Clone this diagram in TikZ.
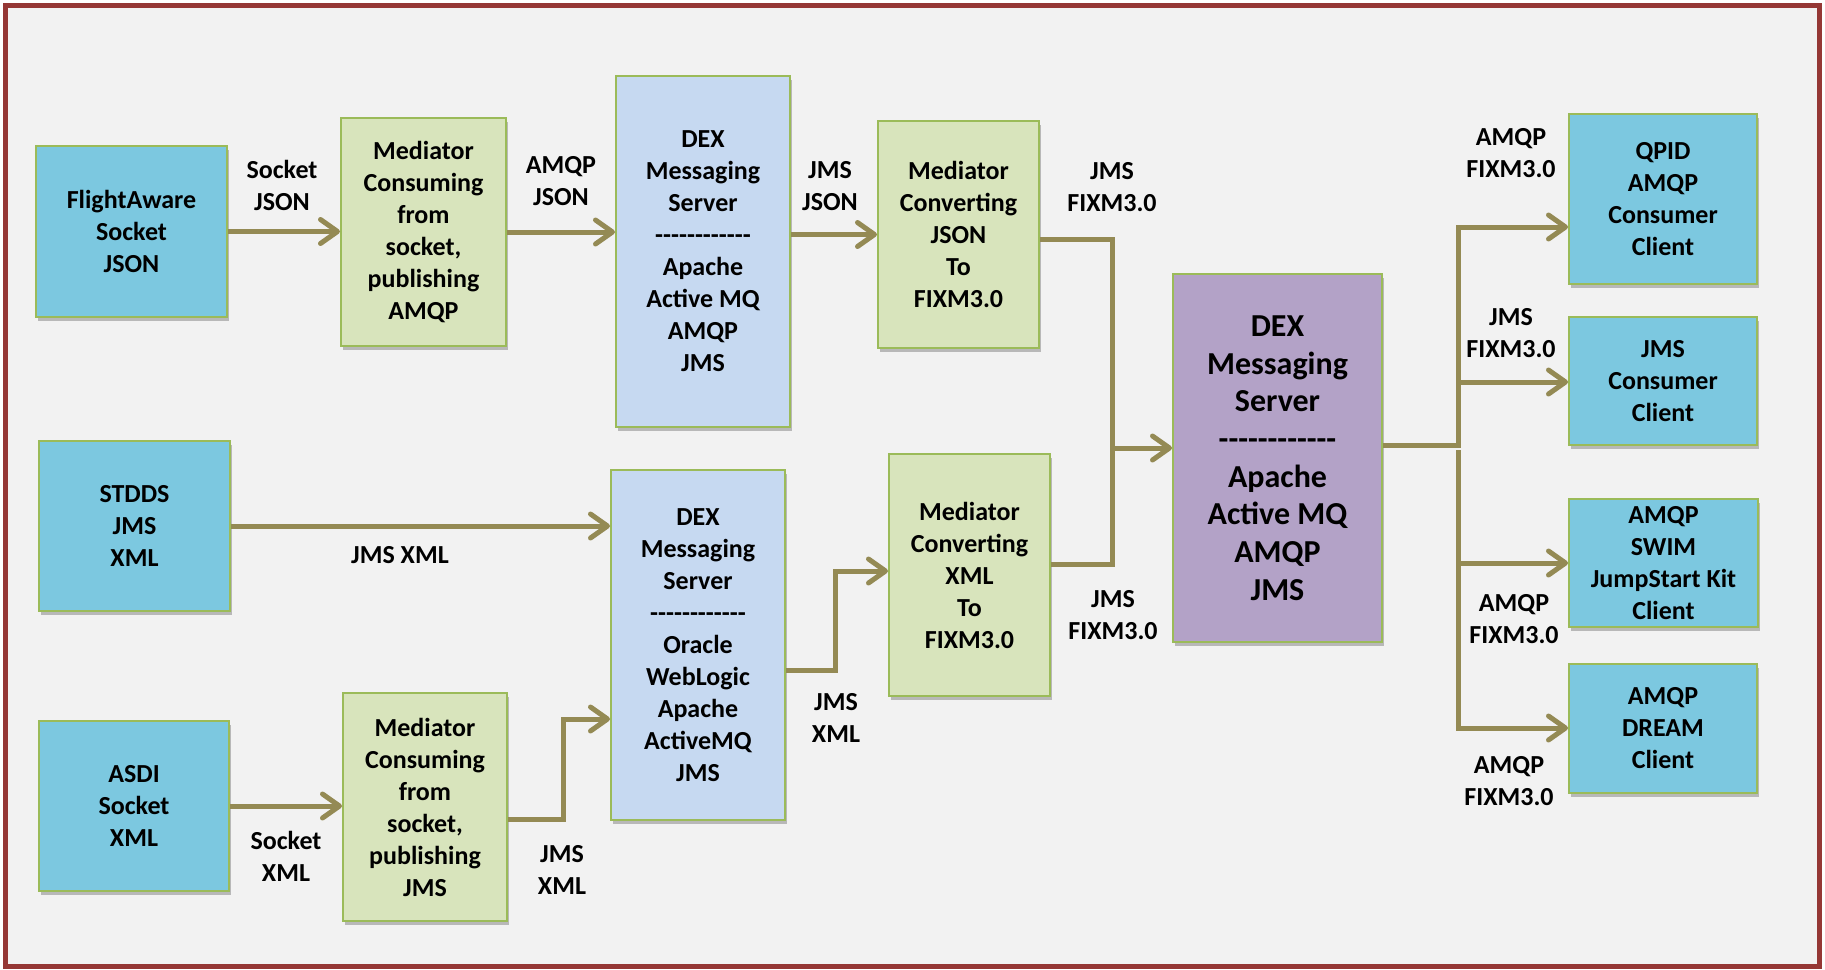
\documentclass[tikz,border=0pt]{standalone}
\usepackage{fontspec}
\setmainfont{Carlito}[Ligatures=TeXOff]
\usetikzlibrary{arrows.meta,shadows}
\definecolor{bgc}{HTML}{F2F2F2}
\definecolor{framec}{HTML}{953735}
\definecolor{boxline}{HTML}{9BBB59}
\definecolor{cblue}{HTML}{7CC8E0}
\definecolor{clblue}{HTML}{C6D9F1}
\definecolor{cgreen}{HTML}{D8E4BC}
\definecolor{cpurple}{HTML}{B3A2C7}
\definecolor{arrowc}{HTML}{948A54}
\newcommand\boxfont{\fontsize{26}{32}\selectfont\bfseries}
\newcommand\bigboxfont{\fontsize{32}{37.7}\selectfont\bfseries}
\begin{document}
\begin{tikzpicture}[x=1pt,y=-1pt,
  box/.style={draw=boxline, line width=2pt, align=center, inner sep=0pt, font=\boxfont,
    drop shadow={shadow xshift=2pt, shadow yshift=-4pt, opacity=0.35, fill=black!70}},
  src/.style={box, fill=cblue},
  dexbox/.style={box, fill=clblue},
  medbox/.style={box, fill=cgreen},
  lab/.style={align=center, inner sep=0pt, font=\boxfont},
  conn/.style={draw=arrowc, line width=5pt, line join=miter},
  arr/.style={conn, -{Straight Barb[length=17pt,width=24pt,round]}}]
\useasboundingbox (0,0) rectangle (1825,969);
\fill[white] (0,0) rectangle (1825,969);
\draw[draw=framec, line width=5pt, fill=bgc] (5.5,5.5) rectangle (1819.5,966.5);

% boxes
\node[src, minimum width=191pt, minimum height=171pt] (fa) at (131.5,231.5) {FlightAware\\Socket\\JSON};
\node[medbox, minimum width=165pt, minimum height=228pt] (med1) at (423.5,232) {Mediator\\Consuming\\from\\socket,\\publishing\\AMQP};
\node[dexbox, minimum width=174pt, minimum height=351pt] (dex1) at (703,251.5) {DEX\\Messaging\\Server\\------------\\Apache\\Active MQ\\AMQP\\JMS};
\node[medbox, minimum width=161pt, minimum height=227pt] (med2) at (958.5,234.5) {Mediator\\Converting\\JSON\\To\\FIXM3.0};
\node[src, minimum width=191pt, minimum height=170pt] (stdds) at (134.5,526) {STDDS\\JMS\\XML};
\node[dexbox, minimum width=174pt, minimum height=350pt] (dex2) at (698,645) {DEX\\Messaging\\Server\\------------\\Oracle\\WebLogic\\Apache\\ActiveMQ\\JMS};
\node[medbox, minimum width=161pt, minimum height=242pt] (med3) at (969.5,575) {Mediator\\Converting\\XML\\To\\FIXM3.0};
\node[src, minimum width=190pt, minimum height=170pt] (asdi) at (134,806) {ASDI\\Socket\\XML};
\node[medbox, minimum width=164pt, minimum height=228pt] (med4) at (425,807) {Mediator\\Consuming\\from\\socket,\\publishing\\JMS};
\node[box, fill=cpurple, font=\bigboxfont, minimum width=209pt, minimum height=368pt] (dexc) at (1277.5,458) {DEX\\Messaging\\Server\\------------\\Apache\\Active MQ\\AMQP\\JMS};
\node[src, minimum width=188pt, minimum height=170pt] (qpid) at (1663,199) {QPID\\AMQP\\Consumer\\Client};
\node[src, minimum width=188pt, minimum height=128pt] (jmsc) at (1663,381) {JMS\\Consumer\\Client};
\node[src, minimum width=189pt, minimum height=128pt] (swim) at (1663.5,563) {AMQP\\SWIM\\JumpStart Kit\\Client};
\node[src, minimum width=188pt, minimum height=129pt] (dream) at (1663,728.5) {AMQP\\DREAM\\Client};

% junction coordinates
\coordinate (j1) at (1112,239);
\coordinate (jm) at (1112,448);
\coordinate (j3) at (1112,564);
\coordinate (k1) at (563,819);
\coordinate (k2) at (563,719);
\coordinate (k3) at (835,670);
\coordinate (k4) at (835,571);
\coordinate (bus) at (1458,445);
\coordinate (bq) at (1458,227);
\coordinate (bj) at (1458,382);
\coordinate (bl) at (1458,450);
\coordinate (bs) at (1458,563);
\coordinate (bd) at (1458,728);

% connectors
\draw[arr] (fa.east) -- (fa.east -| med1.west);
\draw[arr] (med1.east) -- (med1.east -| dex1.west);
\draw[arr] (dex1.east |- med2.west) -- (med2.west);
\draw[conn] (med2.east |- j1) -- (j1) -- (jm);
\draw[conn] (med3.east |- j3) -- (j3) -- (jm);
\draw[arr] (jm) -- (jm -| dexc.west);
\draw[arr] (stdds.east) -- (stdds.east -| dex2.west);
\draw[arr] (asdi.east) -- (asdi.east -| med4.west);
\draw[arr] (med4.east |- k1) -- (k1) -- (k2) -- (k2 -| dex2.west);
\draw[arr] (dex2.east |- k3) -- (k3) -- (k4) -- (k4 -| med3.west);
\draw[arr] (dexc.east |- bus) -- (bus) -- (bq) -- (bq -| qpid.west);
\draw[arr] (bj) -- (bj -| jmsc.west);
\draw[arr] (bl) -- (bd) -- (bd -| dream.west);
\draw[arr] (bs) -- (bs -| swim.west);

% labels
\node[lab] (lsj) at (282,185) {Socket\\JSON};
\node[lab] (laj) at (561,181) {AMQP\\JSON};
\node[lab] (ljj) at (830,186) {JMS\\JSON};
\node[lab] (ljf1) at (1112,187) {JMS\\FIXM3.0};
\node[lab] (laf1) at (1511,153) {AMQP\\FIXM3.0};
\node[lab] (ljf2) at (1511,333) {JMS\\FIXM3.0};
\node[lab] (laf3) at (1514,619) {AMQP\\FIXM3.0};
\node[lab] (laf4) at (1509,781) {AMQP\\FIXM3.0};
\node[lab] (ljx) at (400,555) {JMS XML};
\node[lab] (lsx) at (286,856) {Socket\\XML};
\node[lab] (ljx2) at (562,870) {JMS\\XML};
\node[lab] (ljx3) at (836,718) {JMS\\XML};
\node[lab] (ljf3) at (1113,615) {JMS\\FIXM3.0};
\end{tikzpicture}
\end{document}
